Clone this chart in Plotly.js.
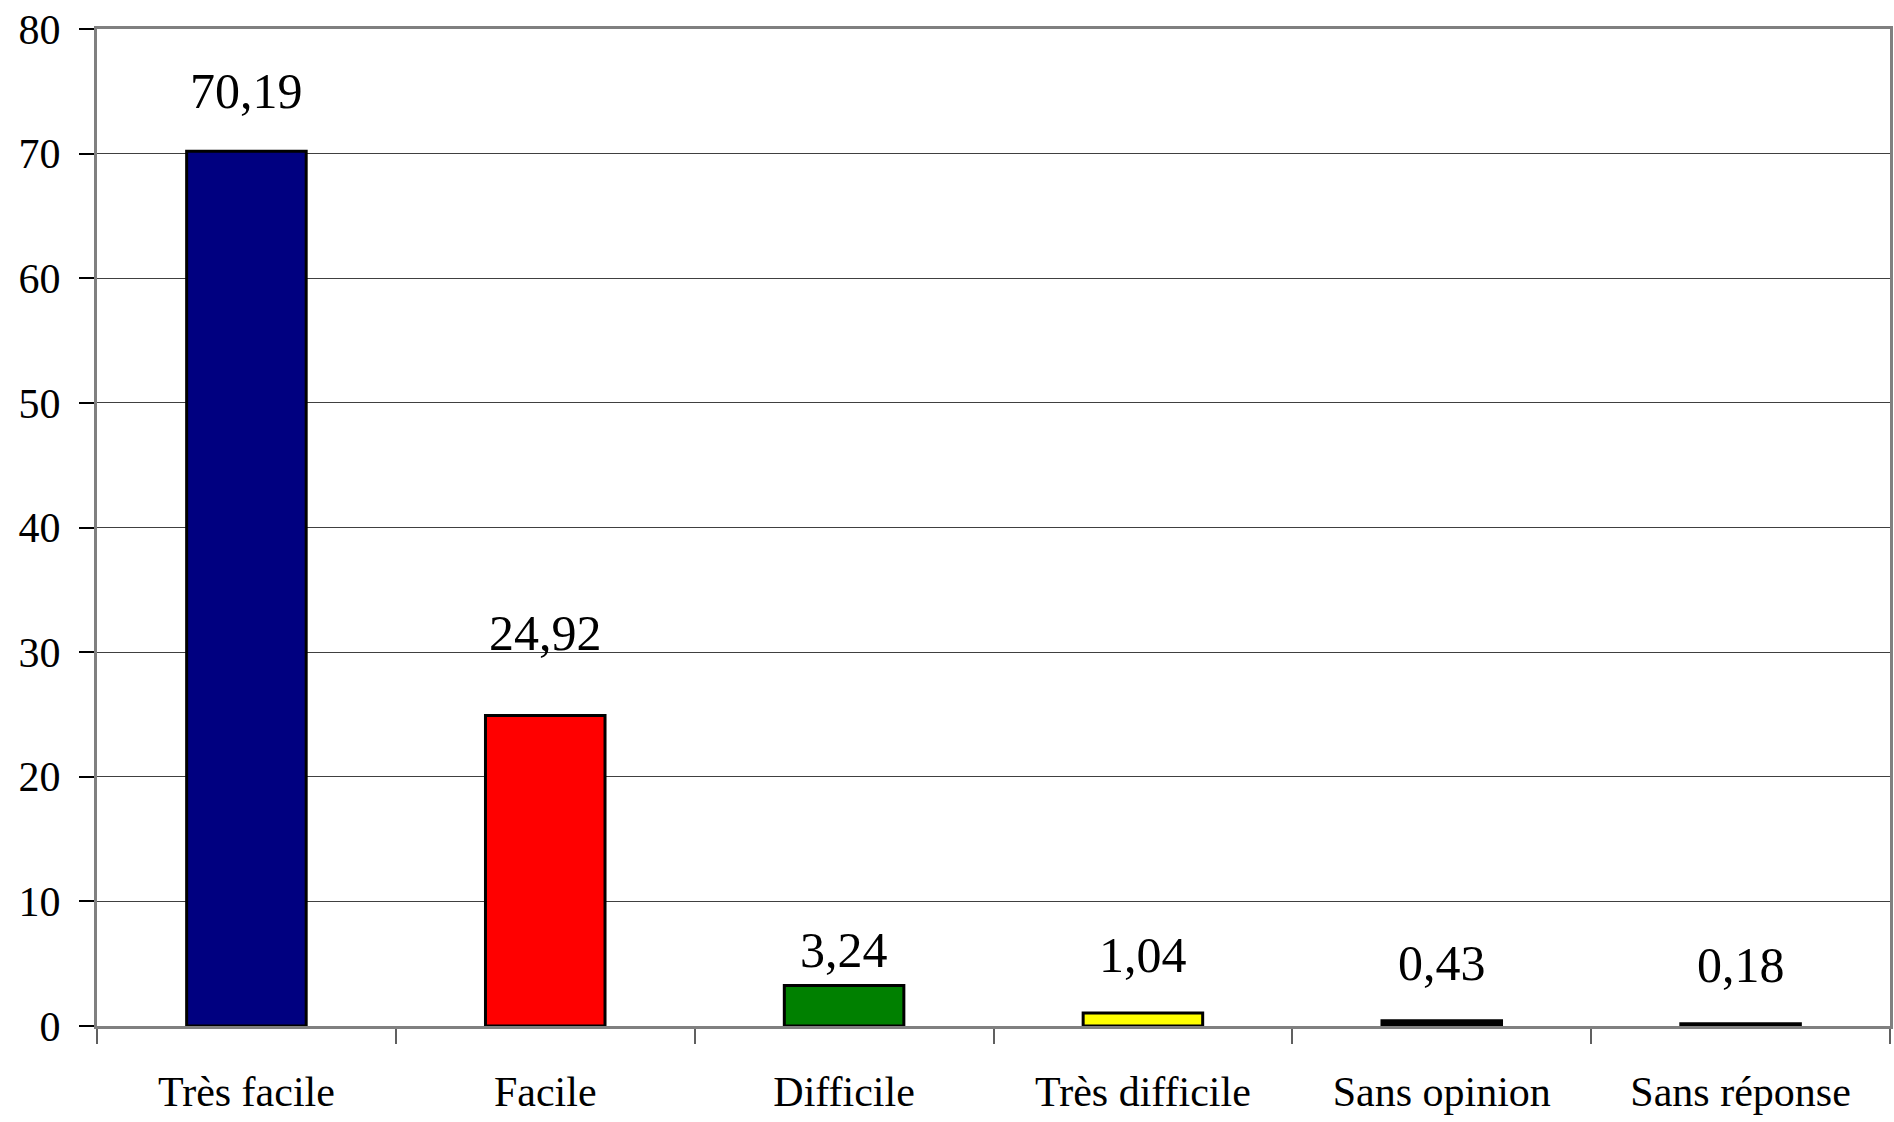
<!DOCTYPE html>
<html>
<head>
<meta charset="utf-8">
<script src="https://cdn.plot.ly/plotly-3.0.1.min.js"></script>
<style>html,body{margin:0;padding:0;background:#fff;}#chart{width:1894px;height:1122px;}</style>
</head>
<body>
<div id="chart"></div>
<script>
const categories = ["Très facile", "Facile", "Difficile", "Très difficile", "Sans opinion", "Sans réponse"];
const values = [70.19, 24.92, 3.24, 1.04, 0.43, 0.18];
const valueLabels = ["70,19", "24,92", "3,24", "1,04", "0,43", "0,18"];
const barColors = ["#000080", "#FF0000", "#008000", "#FFFF00", "#000000", "#000000"];
const yTickValues = [0, 10, 20, 30, 40, 50, 60, 70, 80];

// label offsets (pixels above bar top), style only
const labelShift = [30, 52, 6, 28, 28, 29];

const FONT = "'Liberation Serif', 'Times New Roman', serif";

const trace = {
  type: "bar",
  x: categories,
  y: values,
  marker: { color: barColors, line: { color: "#000000", width: 3 } },
  hoverinfo: "none"
};

const annotations = categories.map((c, i) => ({
  x: c, y: values[i], xref: "x", yref: "y",
  text: valueLabels[i], showarrow: false,
  yanchor: "bottom", yshift: labelShift[i],
  font: { family: FONT, size: 50, color: "#000" }
}));

const layout = {
  width: 1894, height: 1122,
  margin: { l: 97, r: 4, t: 29, b: 96, pad: 0 },
  paper_bgcolor: "#ffffff", plot_bgcolor: "#ffffff",
  showlegend: false,
  bargap: 0.6,
  font: { family: FONT, size: 42, color: "#000" },
  xaxis: {
    type: "category",
    tickson: "boundaries",
    ticks: "outside", ticklen: 15, tickwidth: 2, tickcolor: "#606060",
    showline: true, linecolor: "#808080", linewidth: 3, mirror: true,
    showgrid: false, zeroline: false,
    ticklabelstandoff: 27,
    tickfont: { family: FONT, size: 42, color: "#000" }
  },
  yaxis: {
    range: [0, 80], tickvals: yTickValues, ticktext: yTickValues.map(String),
    ticks: "outside", ticklen: 15, tickwidth: 2, tickcolor: "#000",
    showline: true, linecolor: "#808080", linewidth: 3, mirror: true,
    showgrid: true, gridcolor: "#404040", gridwidth: 1,
    zeroline: false,
    ticklabelstandoff: 10,
    tickfont: { family: FONT, size: 42, color: "#000" }
  },
  annotations: annotations
};

Plotly.newPlot("chart", [trace], layout, { staticPlot: true, displayModeBar: false });
</script>
</body>
</html>
